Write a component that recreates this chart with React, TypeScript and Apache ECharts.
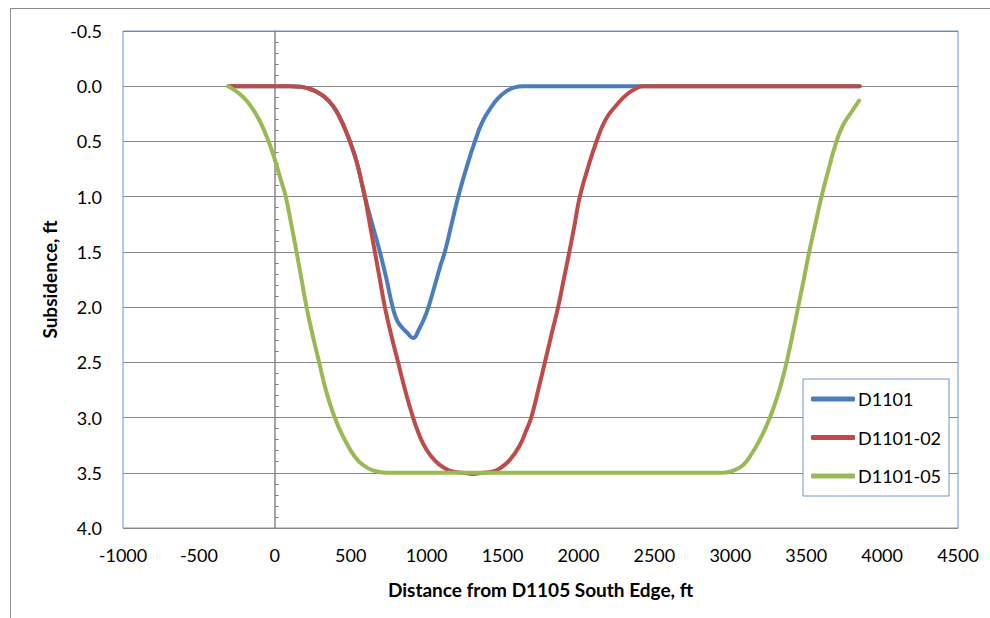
import React, { useEffect, useRef } from "react";
import * as echarts from "echarts";

const seriesNames = ["D1101", "D1101-02", "D1101-05"];
const colors = ["#4a7ebb", "#be4b48", "#98b954"];

const xTicks = { min: -1000, max: 4500, interval: 500 };
const yTicks = { min: -0.5, max: 4.0, interval: 0.5 };

const d1101: [number, number][] = [
  [-300, 0], [-200, 0], [-100, 0], [0, 0], [100, 0], [165, 0.005], [220, 0.02],
  [275, 0.05], [330, 0.1], [384, 0.18], [430, 0.29], [472, 0.42], [505, 0.54],
  [538, 0.68], [565, 0.83], [593, 1.0], [642, 1.25], [692, 1.5], [736, 1.75],
  [776, 2.0], [805, 2.12], [835, 2.18], [870, 2.23], [911, 2.28], [950, 2.2],
  [985, 2.1], [1012, 2.0], [1040, 1.87], [1065, 1.75], [1092, 1.62], [1120, 1.5],
  [1164, 1.25], [1208, 1.0], [1260, 0.75], [1318, 0.5], [1365, 0.33], [1416, 0.21],
  [1470, 0.11], [1526, 0.045], [1580, 0.01], [1636, 0], [2000, 0], [2500, 0],
  [3000, 0], [3500, 0], [3850, 0],
];

const d1101_02: [number, number][] = [
  [-300, 0], [-200, 0], [-100, 0], [0, 0], [100, 0], [165, 0.005], [220, 0.02],
  [275, 0.05], [330, 0.1], [384, 0.18], [430, 0.29], [472, 0.42], [505, 0.54],
  [538, 0.68], [565, 0.83], [593, 1.0], [626, 1.25], [659, 1.5], [692, 1.75],
  [725, 2.0], [768, 2.26], [812, 2.5], [860, 2.76], [911, 3.0], [955, 3.17],
  [999, 3.29], [1055, 3.39], [1109, 3.45], [1175, 3.49], [1241, 3.5], [1300, 3.51],
  [1372, 3.5], [1430, 3.49], [1482, 3.46], [1550, 3.38], [1614, 3.25], [1655, 3.12],
  [1691, 2.99], [1735, 2.75], [1779, 2.5], [1822, 2.25], [1866, 2.0], [1903, 1.75],
  [1940, 1.5], [1975, 1.25], [2009, 1.0], [2060, 0.75], [2119, 0.5], [2180, 0.3],
  [2251, 0.17], [2318, 0.075], [2380, 0.02], [2426, 0], [2600, 0], [3000, 0],
  [3500, 0], [3854, 0],
];

const d1101_05: [number, number][] = [
  [-308, 0], [-250, 0.05], [-187, 0.13], [-121, 0.26], [-80, 0.37], [-44, 0.49],
  [-15, 0.6], [10, 0.71], [40, 0.85], [72, 1.0], [107, 1.24], [143, 1.5],
  [176, 1.75], [209, 2.0], [250, 2.26], [292, 2.5], [340, 2.77], [395, 3.0],
  [435, 3.13], [472, 3.23], [525, 3.35], [582, 3.43], [650, 3.48], [736, 3.5],
  [1000, 3.5], [1500, 3.5], [2000, 3.5], [2500, 3.5], [2953, 3.5], [3020, 3.48],
  [3085, 3.43], [3140, 3.33], [3195, 3.2], [3240, 3.07], [3283, 2.92], [3330, 2.72],
  [3371, 2.5], [3410, 2.25], [3447, 2.0], [3484, 1.75], [3520, 1.5], [3560, 1.25],
  [3601, 1.0], [3650, 0.74], [3700, 0.5], [3740, 0.36], [3795, 0.24], [3849, 0.13],
];

const seriesData = [d1101, d1101_02, d1101_05];

const xTitle = "Distance from D1105 South Edge, ft";
const yTitle = "Subsidence, ft";

const FONT = "Lato, 'Open Sans', sans-serif";
const GRID_GRAY = "#878787";
const PLOT_BORDER = "#7096c9";

export default function App() {
  const ref = useRef<HTMLDivElement>(null);
  useEffect(() => {
    if (!ref.current) return;
    const chart = echarts.init(ref.current, undefined, { renderer: "svg" });
    chart.setOption({
      animation: false,
      backgroundColor: "#ffffff",
      textStyle: { fontFamily: FONT },
      graphic: [
        {
          type: "rect",
          shape: { x: 10.5, y: 8.5, width: 1200, height: 800 },
          style: { fill: "none", stroke: "#8c8c8c", lineWidth: 1 },
          silent: true,
          z: -10,
        },
      ],
      grid: {
        left: 123,
        top: 31,
        right: 32,
        bottom: 90,
        show: true,
        borderColor: PLOT_BORDER,
        borderWidth: 1,
        backgroundColor: "#ffffff",
        containLabel: false,
      },
      legend: {
        orient: "vertical",
        left: 803,
        top: 379,
        data: seriesNames,
        icon: "roundRect",
        itemWidth: 44,
        itemHeight: 5,
        itemGap: 18.5,
        padding: [10, 8, 10, 8],
        borderColor: PLOT_BORDER,
        borderWidth: 1,
        backgroundColor: "#ffffff",
        textStyle: { fontFamily: FONT, fontSize: 18, color: "#000", lineHeight: 20, padding: [0, 0, 0, -2] },
      },
      xAxis: {
        type: "value",
        min: xTicks.min,
        max: xTicks.max,
        interval: xTicks.interval,
        name: xTitle,
        nameLocation: "middle",
        nameGap: 52,
        nameTextStyle: { fontFamily: FONT, fontSize: 19, fontWeight: "bold", color: "#000" },
        axisLine: { show: false, onZero: false },
        axisTick: { show: false },
        splitLine: { show: false },
        axisLabel: {
          fontFamily: FONT,
          fontSize: 18,
          color: "#000",
          margin: 18,
          formatter: (v: number) => String(v),
        },
      },
      yAxis: [
        {
          type: "value",
          inverse: true,
          min: yTicks.min,
          max: yTicks.max,
          interval: yTicks.interval,
          position: "left",
          name: yTitle,
          nameLocation: "middle",
          nameGap: 62,
          nameRotate: 90,
          nameTextStyle: { fontFamily: FONT, fontSize: 19, fontWeight: "bold", color: "#000" },
          axisLine: { show: false, onZero: false },
          axisTick: { show: false },
          splitLine: { show: true, lineStyle: { color: GRID_GRAY, width: 1 } },
          axisLabel: {
            fontFamily: FONT,
            fontSize: 18,
            color: "#000",
            margin: 21,
            formatter: (v: number) => v.toFixed(1),
          },
        },
        {
          type: "value",
          inverse: true,
          min: yTicks.min,
          max: yTicks.max,
          interval: yTicks.interval,
          position: "right",
          axisLine: { show: true, onZero: true, lineStyle: { color: GRID_GRAY, width: 1.5 } },
          axisTick: { show: true, inside: false, length: 4, lineStyle: { color: GRID_GRAY } },
          minorTick: { show: true, splitNumber: 5, length: 4, lineStyle: { color: GRID_GRAY } },
          splitLine: { show: false },
          minorSplitLine: { show: false },
          axisLabel: { show: false },
        },
      ],
      series: seriesNames.map((name, i) => ({
        name,
        type: "line",
        data: seriesData[i],
        yAxisIndex: 0,
        showSymbol: false,
        symbol: "none",
        smooth: 0.5,
        color: colors[i],
        lineStyle: { width: 4, color: colors[i], cap: "round", join: "round" },
        z: 3 + i,
      })),
    });
    return () => chart.dispose();
  }, []);
  return (
    <div
      ref={ref}
      style={{ position: "fixed", left: 0, top: 0, width: 990, height: 618, background: "#fff" }}
    />
  );
}
